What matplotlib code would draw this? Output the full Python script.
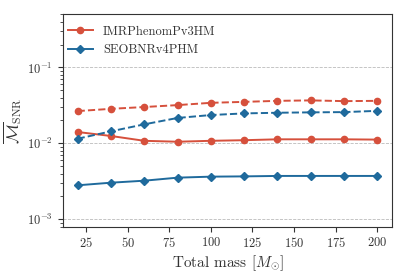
import matplotlib
matplotlib.use("Agg")
import matplotlib.pyplot as plt

plt.rcParams["font.family"] = "serif"
plt.rcParams["font.serif"] = ["cmr10"]
plt.rcParams["mathtext.fontset"] = "cm"
plt.rcParams["axes.formatter.use_mathtext"] = True

mass = [20, 40, 60, 80, 100, 120, 140, 160, 180, 200]

# IMRPhenomPv3HM
phenom_dashed = [0.0266, 0.0285, 0.0301, 0.0319, 0.0342, 0.0352, 0.0363, 0.0368, 0.0360, 0.0363]
phenom_solid = [0.0141, 0.0125, 0.0108, 0.0105, 0.0108, 0.0110, 0.0113, 0.0113, 0.0113, 0.0112]

# SEOBNRv4PHM
seob_dashed = [0.0115, 0.0144, 0.0178, 0.0216, 0.0236, 0.0248, 0.0253, 0.0256, 0.0258, 0.0268]
seob_solid = [0.00280, 0.00303, 0.00322, 0.00353, 0.00364, 0.00367, 0.00372, 0.00372, 0.00372, 0.00372]

red = "#d6503c"
blue = "#1f6a9c"

fig = plt.figure(figsize=(4.07, 2.77), dpi=100)
ax = fig.add_axes([0.154, 0.182, 0.81, 0.766])

ax.plot(mass, phenom_solid, "-o", color=red, ms=4.5, lw=1.4, label="IMRPhenomPv3HM")
ax.plot(mass, seob_solid, "-D", color=blue, ms=4.5, lw=1.4, label="SEOBNRv4PHM")
ax.plot(mass, phenom_dashed, "--o", color=red, ms=4.5, lw=1.4)
ax.plot(mass, seob_dashed, "--D", color=blue, ms=4.5, lw=1.4)

ax.set_yscale("log")
ax.set_ylim(8e-4, 0.5)
ax.set_xlim(11, 209)
ax.yaxis.grid(True, which="major", ls="--", color="#bbbbbb", lw=0.6)
ax.tick_params(labelsize=9, colors="#333333", which="both")
for s in ax.spines.values():
    s.set_color("#333333")
ax.set_xlabel(r"Total mass [$M_{\odot}$]", fontsize=11, labelpad=2, color="#333333")
ax.set_ylabel(r"$\overline{\mathcal{M}}_{\rm SNR}$", fontsize=12, labelpad=2, color="#333333")
leg = ax.legend(loc="upper left", frameon=False, fontsize=9, bbox_to_anchor=(-0.018, 1.0))
for t in leg.get_texts():
    t.set_color("#333333")

fig.savefig("out.png", dpi=100)
